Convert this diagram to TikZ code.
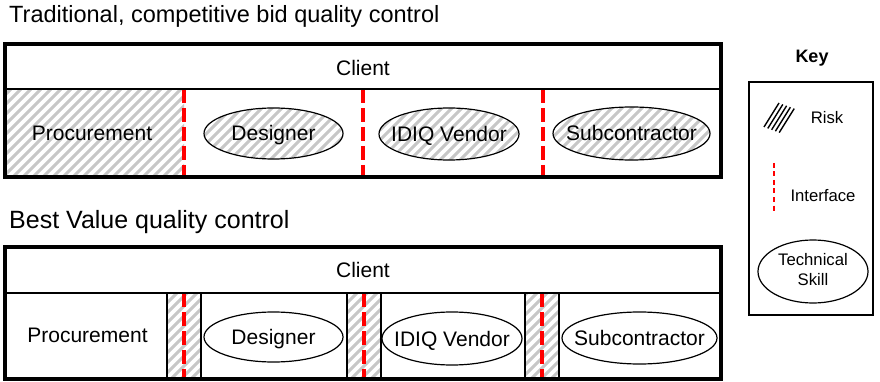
\documentclass[tikz,border=0pt]{standalone}
\usepackage{fontspec}
\setmainfont{Liberation Sans}
\usetikzlibrary{shapes.geometric}
\newcommand\hatchregion[1]{%
  \begin{scope}
    \clip #1;
    \foreach \k in {-40,...,90}{\draw[hatchline] (\k*10,400) -- ++(400,-400);}
  \end{scope}}
\begin{document}
\begin{tikzpicture}[x=1pt,y=-1pt,
  hatchline/.style={draw=black!22, line width=3pt},
  outerbox/.style={draw=black, line width=4pt, line join=miter},
  thinline/.style={draw=black, line width=1.5pt},
  iface/.style={draw=red, line width=3.2pt, dash pattern=on 14pt off 5pt},
  keyiface/.style={draw=red, line width=1.3pt, dash pattern=on 5pt off 3.5pt},
  skill/.style={ellipse, draw=black, line width=1.2pt, inner sep=0pt},
  lbl/.style={font=\fontsize{21}{25}\selectfont, inner sep=0pt, text height=17.5pt, text depth=2.5pt},
  keylbl/.style={font=\fontsize{16.7}{20}\selectfont, inner sep=0pt},
  ttl/.style={anchor=base west, inner sep=0pt}
]
\useasboundingbox (0,0) rectangle (880,382);
\fill[white] (0,0) rectangle (880,382);

% ---------- titles ----------
\node[ttl, font=\fontsize{23.5}{26}\selectfont] (title1) at (9,23) {Traditional, competitive bid quality control};
\node[ttl, font=\fontsize{25}{28}\selectfont] (title2) at (9,228) {Best Value quality control};

% ---------- top diagram ----------
\hatchregion{(5,89) rectangle (184,177)}
\hatchregion{(273.5,133.5) ellipse [x radius=69.5pt, y radius=25.5pt]}
\hatchregion{(449,134) ellipse [x radius=70pt, y radius=26pt]}
\hatchregion{(631.5,133.5) ellipse [x radius=78.5pt, y radius=26.5pt]}

\coordinate (t1a) at (184,89);  \coordinate (t1b) at (184,177);
\coordinate (t2a) at (363,89);  \coordinate (t2b) at (363,177);
\coordinate (t3a) at (543,89);  \coordinate (t3b) at (543,177);
\draw[iface] (t1a) -- (t1b);
\draw[iface] (t2a) -- (t2b);
\draw[iface] (t3a) -- (t3b);

\draw[thinline] (5,89) -- (721,89);
\draw[outerbox] (5,44) rectangle (721,177);

\node[lbl] (client1) at (363,68) {Client};
\node[lbl] (proc1) at (92,133) {Procurement};
\node[skill, lbl, minimum width=139pt, minimum height=51pt] (des1) at (273.5,133.5) {\makebox[0pt]{Designer}};
\node[skill, lbl, minimum width=140pt, minimum height=52pt] (idiq1) at (449,134) {\makebox[0pt]{IDIQ Vendor}};
\node[skill, lbl, minimum width=157pt, minimum height=53pt] (sub1) at (631.5,133.5) {\makebox[0pt]{Subcontractor}};

% ---------- bottom diagram ----------
\hatchregion{(167,293) rectangle (201,379)}
\hatchregion{(347,293) rectangle (381,379)}
\hatchregion{(525,293) rectangle (559,379)}

\coordinate (b1a) at (184,293);  \coordinate (b1b) at (184,379);
\coordinate (b2a) at (364,293);  \coordinate (b2b) at (364,379);
\coordinate (b3a) at (542,293);  \coordinate (b3b) at (542,379);
\draw[iface] (b1a) -- (b1b);
\draw[iface] (b2a) -- (b2b);
\draw[iface] (b3a) -- (b3b);

\draw[thinline] (5,293) -- (721,293);
\draw[thinline] (167,293) rectangle (201,379);
\draw[thinline] (347,293) rectangle (381,379);
\draw[thinline] (525,293) rectangle (559,379);
\draw[outerbox] (5,247) rectangle (721,379);

\node[lbl] (client2) at (363,270) {Client};
\node[lbl] (proc2) at (87.5,335) {Procurement};
\node[skill, lbl, minimum width=139pt, minimum height=50pt] (des2) at (273.5,337) {\makebox[0pt]{Designer}};
\node[skill, lbl, minimum width=140pt, minimum height=53pt] (idiq2) at (452,338.5) {\makebox[0pt]{IDIQ Vendor}};
\node[skill, lbl, minimum width=155pt, minimum height=52pt] (sub2) at (639.5,338) {\makebox[0pt]{Subcontractor}};

% ---------- key ----------
\node[inner sep=0pt, font=\fontsize{18}{20}\selectfont\bfseries] (key) at (812,58) {Key};
\draw[black, line width=1.5pt] (749,82) rectangle (873,315);
\foreach \i in {0,...,4}{\draw[black, line width=1.4pt] (764+3.8*\i,127+1.4*\i) -- ++(15,-24);}
\node[keylbl] (risk) at (827,118) {Risk};
\coordinate (ka) at (774,163); \coordinate (kb) at (774,213);
\draw[keyiface] (ka) -- (kb);
\node[keylbl] (ifacelbl) at (823,196) {Interface};
\node[skill, keylbl, minimum width=110pt, minimum height=63pt] (tskill) at (813,271.5)
  {\makebox[0pt]{\begin{tabular}{@{}c@{}}Technical\\Skill\end{tabular}}};
\end{tikzpicture}
\end{document}
